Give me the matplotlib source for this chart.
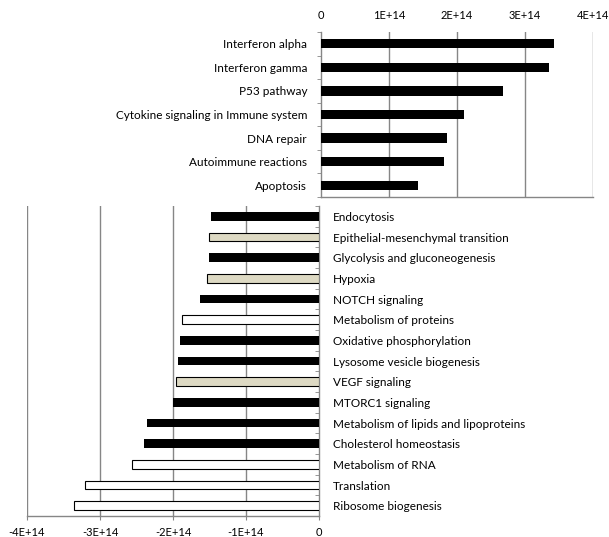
import matplotlib
matplotlib.use("Agg")
import matplotlib.pyplot as plt
from matplotlib.ticker import FixedLocator

plt.rcParams['font.family'] = ['Lato', 'DejaVu Sans']

up_labels = ["Interferon alpha", "Interferon gamma", "P53 pathway",
             "Cytokine signaling in Immune system", "DNA repair",
             "Autoimmune reactions", "Apoptosis"]
up_values = [3.43e14, 3.35e14, 2.67e14, 2.10e14, 1.85e14, 1.81e14, 1.42e14]

down_labels = ["Endocytosis", "Epithelial-mesenchymal transition",
               "Glycolysis and gluconeogenesis", "Hypoxia", "NOTCH signaling",
               "Metabolism of proteins", "Oxidative phosphorylation",
               "Lysosome vesicle biogenesis", "VEGF signaling", "MTORC1 signaling",
               "Metabolism of lipids and lipoproteins", "Cholesterol homeostasis",
               "Metabolism of RNA", "Translation", "Ribosome biogenesis"]
down_values = [-1.48e14, -1.51e14, -1.51e14, -1.53e14, -1.63e14, -1.88e14,
               -1.90e14, -1.93e14, -1.96e14, -2.00e14, -2.35e14, -2.40e14,
               -2.56e14, -3.21e14, -3.35e14]
down_kind = ["black", "beige", "black", "beige", "black", "white", "black",
             "black", "beige", "black", "black", "black", "white", "white", "white"]

up_ticks = [0, 1e14, 2e14, 3e14, 4e14]
up_ticklabels = ["0", "1E+14", "2E+14", "3E+14", "4E+14"]
down_ticks = [-4e14, -3e14, -2e14, -1e14, 0]
down_ticklabels = ["-4E+14", "-3E+14", "-2E+14", "-1E+14", "0"]

fill = {"black": "#000000", "beige": "#DDD9C3", "white": "#FFFFFF"}
GRID = "#868686"
W, H = 609, 537
fig = plt.figure(figsize=(W / 100, H / 100), dpi=100)

# ---------- top panel ----------
ax1 = fig.add_axes([321 / W, 1 - 197 / H, (593 - 321) / W, (197 - 32) / H])
n1 = len(up_labels)
ax1.barh(range(n1), up_values, height=0.4, color="black", zorder=3)
ax1.set_xlim(0, 4e14)
ax1.set_ylim(n1 - 0.5, -0.5)
ax1.xaxis.tick_top()
ax1.set_xticks(up_ticks)
ax1.set_xticklabels(up_ticklabels, fontsize=8)
ax1.tick_params(axis='x', length=0, pad=8)
ax1.set_yticks(range(n1))
ax1.set_yticklabels(up_labels, fontsize=8.5)
ax1.yaxis.set_minor_locator(FixedLocator([i - 0.5 for i in range(n1 + 1)]))
ax1.tick_params(axis='y', which='major', length=0, pad=10)
ax1.tick_params(axis='y', which='minor', length=3, color=GRID, direction='out')
for s in ["top", "right"]:
    ax1.spines[s].set_visible(False)
for s in ["left", "bottom"]:
    ax1.spines[s].set_color(GRID)
    ax1.spines[s].set_linewidth(1)
for t in up_ticks[1:]:
    ax1.axvline(t, color=GRID, lw=1, zorder=1)

# ---------- bottom panel ----------
ax2 = fig.add_axes([27 / W, 1 - 516 / H, (319 - 27) / W, (516 - 206) / H])
n2 = len(down_labels)
for i, (v, k) in enumerate(zip(down_values, down_kind)):
    ax2.barh(i, v, height=0.42, color=fill[k], edgecolor="black",
             linewidth=0.8 if k != "black" else 0, zorder=3)
ax2.set_xlim(-4e14, 0)
ax2.set_ylim(n2 - 0.5, -0.5)
ax2.set_xticks(down_ticks)
ax2.set_xticklabels(down_ticklabels, fontsize=8)
ax2.tick_params(axis='x', length=3, color=GRID, pad=5)
ax2.yaxis.tick_right()
ax2.set_yticks(range(n2))
ax2.set_yticklabels(down_labels, fontsize=8.5)
ax2.yaxis.set_minor_locator(FixedLocator([i - 0.5 for i in range(n2 + 1)]))
ax2.tick_params(axis='y', which='major', length=0, pad=10)
ax2.tick_params(axis='y', which='minor', length=3, color=GRID, direction='in')
for s in ["top", "left"]:
    ax2.spines[s].set_visible(False)
for s in ["right", "bottom"]:
    ax2.spines[s].set_color(GRID)
    ax2.spines[s].set_linewidth(1)
for t in down_ticks[:-1]:
    ax2.axvline(t, color=GRID, lw=1, zorder=1)

fig.savefig("out.png", dpi=100)
